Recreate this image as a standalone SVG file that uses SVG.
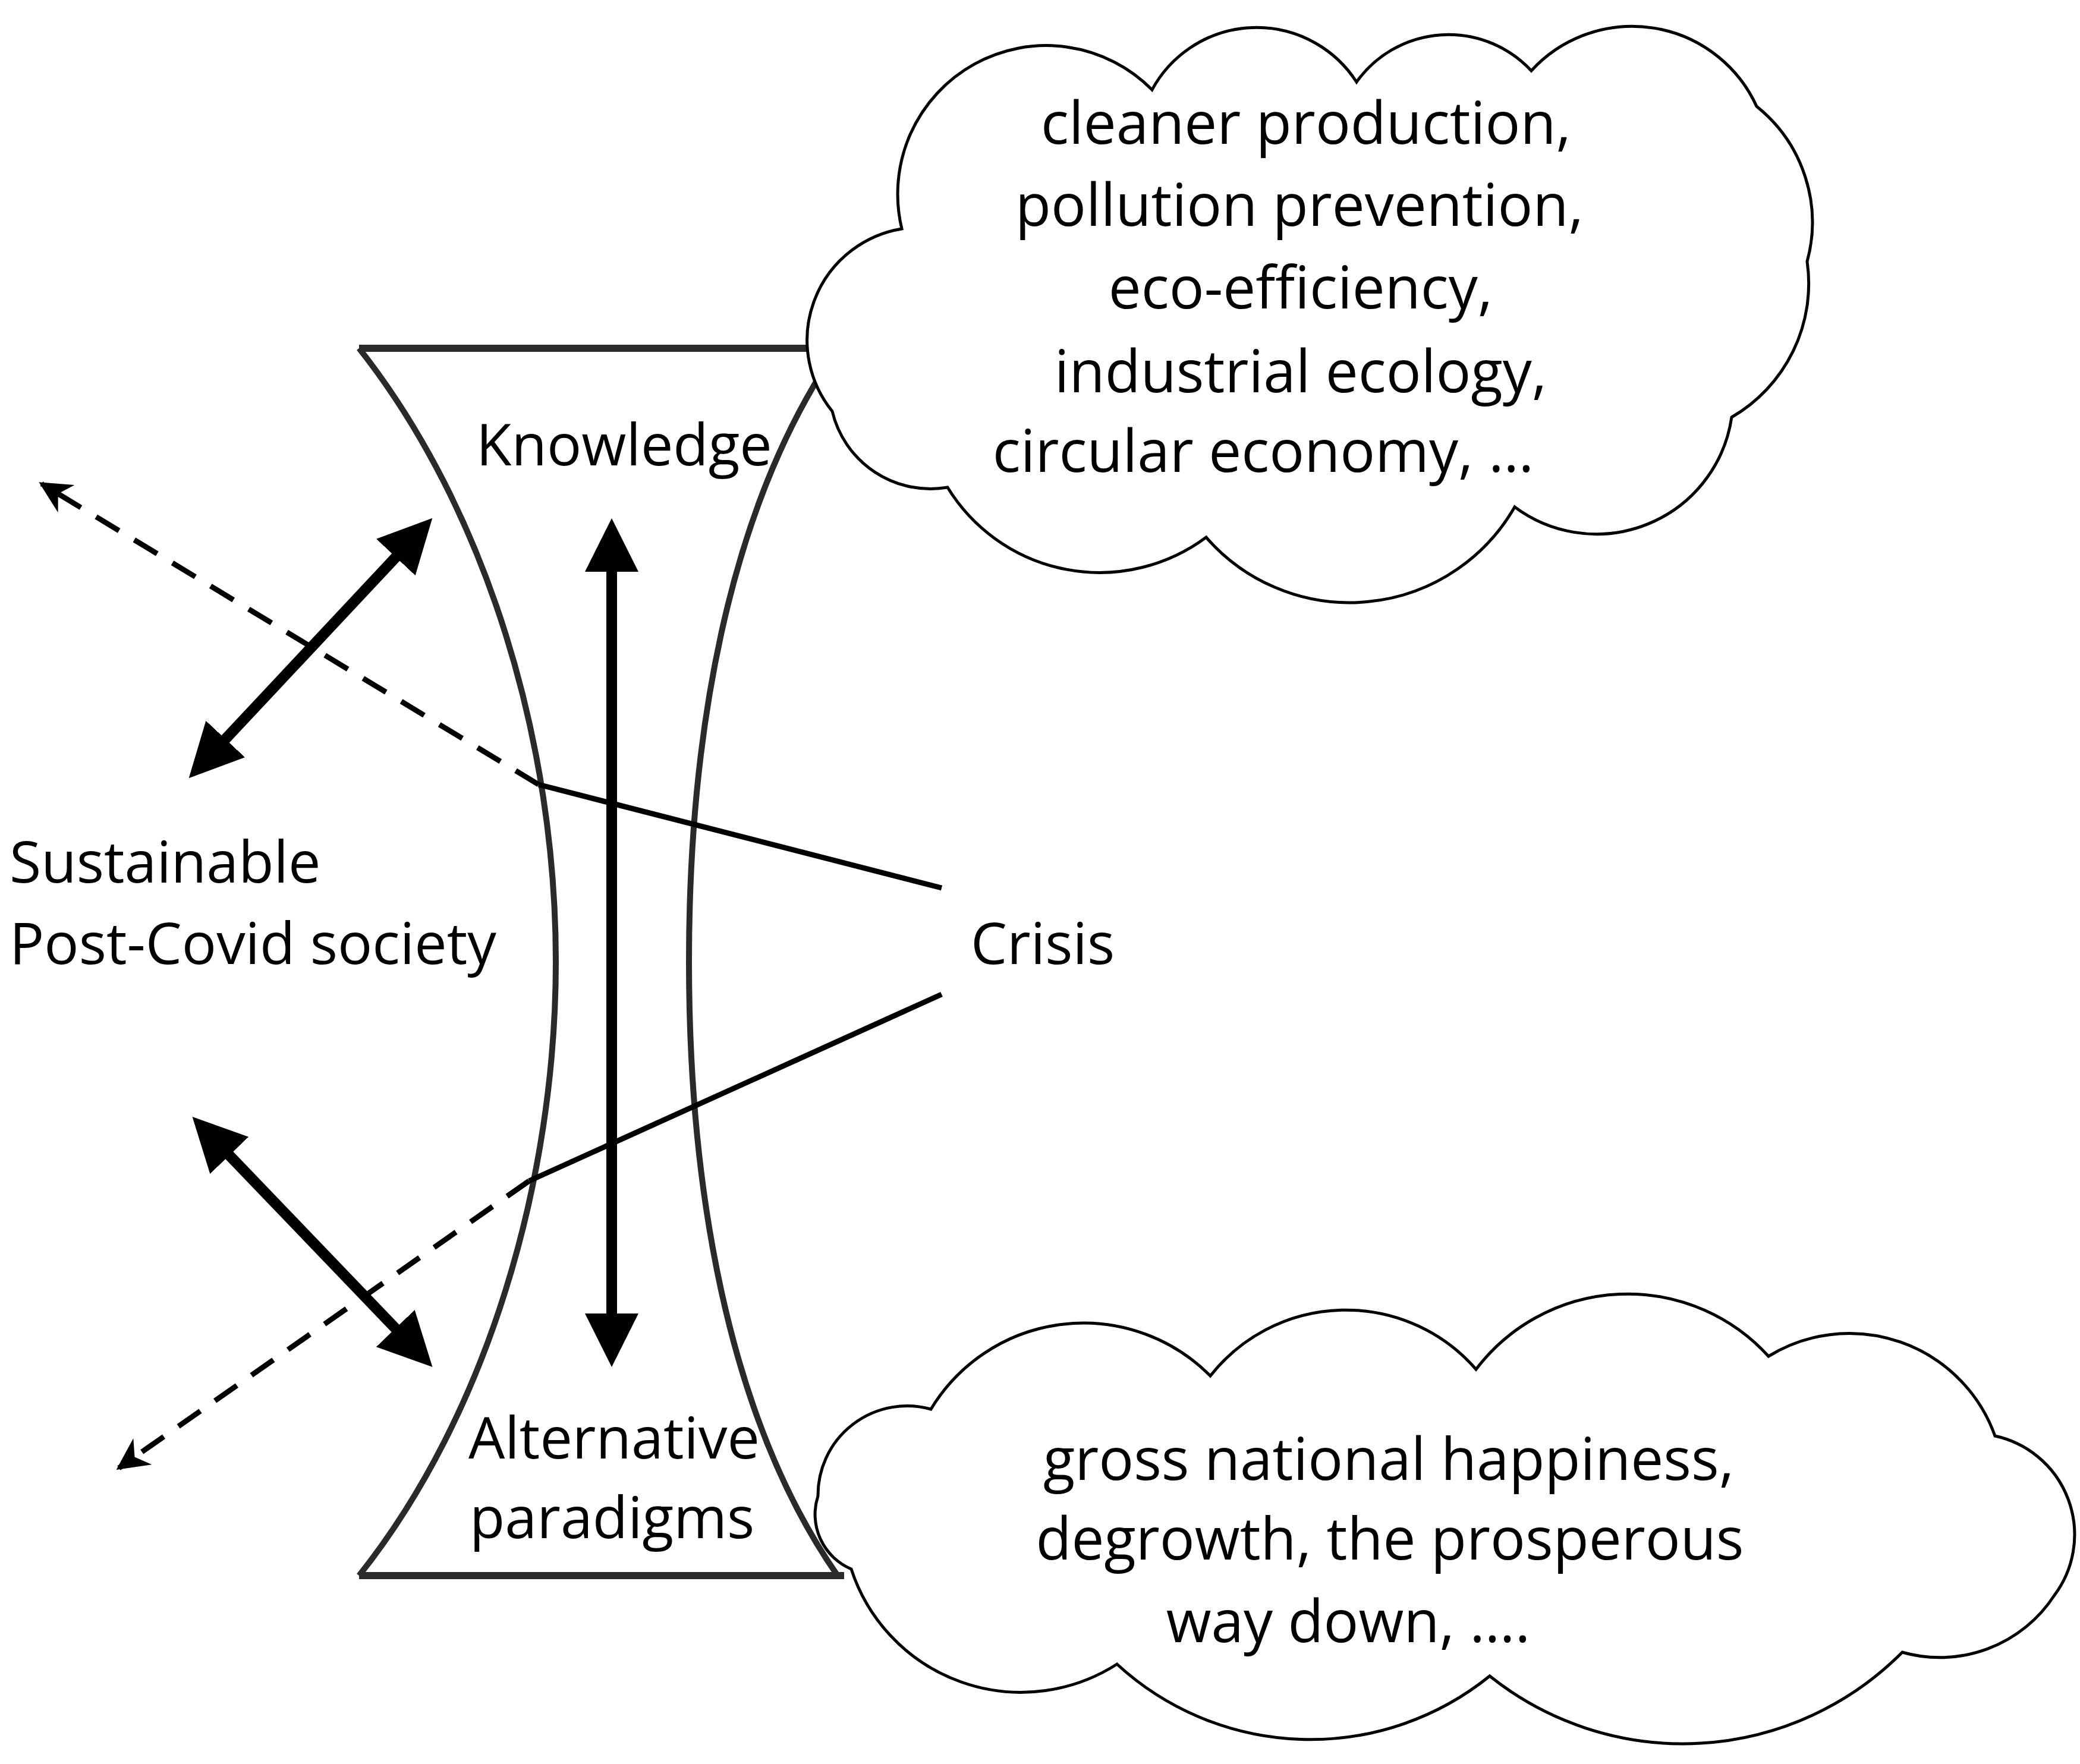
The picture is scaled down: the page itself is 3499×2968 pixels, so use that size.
<svg xmlns="http://www.w3.org/2000/svg" width="3499" height="2968" viewBox="0 0 3499 2968">
<style>
.lbl{font-family:"Open Sans","Liberation Sans",sans-serif;font-size:97px;fill:#000}
.ct{font-family:"Open Sans","Liberation Sans",sans-serif;font-size:98px;fill:#000;text-anchor:middle}
.hg{fill:none;stroke:#2a2a2a;stroke-width:10}
.cloud{fill:#fff;stroke:#000;stroke-width:5}
.thick{stroke:#000;stroke-width:18;fill:none}
.dash{stroke:#000;stroke-width:9;stroke-dasharray:45 30;fill:none}
.solid{stroke:#000;stroke-width:9;fill:none}
</style>
<defs>
<marker id="big" viewBox="0 0 10 10" refX="8" refY="5" markerWidth="5" markerHeight="5" markerUnits="strokeWidth" orient="auto-start-reverse"><path d="M0,0 L10,5 L0,10 z" fill="#000"/></marker>
<marker id="small" viewBox="0 0 10 10" refX="9" refY="5" markerWidth="6" markerHeight="6" markerUnits="strokeWidth" orient="auto"><path d="M0,0 L10,5 L0,10 L3,5 z" fill="#000"/></marker>
</defs>
<rect width="3499" height="2968" fill="#fff"/>
<g id="hourglass">
<line x1="604" y1="586" x2="1420" y2="586" stroke="#2a2a2a" stroke-width="12"/>
<line x1="604" y1="2651" x2="1420" y2="2651" stroke="#2a2a2a" stroke-width="12"/>
<path class="hg" d="M604 586 C820 860 935 1250 935 1618 S820 2380 604 2651"/>
<path class="hg" d="M1409 586 C1220 860 1159 1250 1159 1618 S1220 2380 1409 2651"/>
</g>
<g id="connectors">
<line class="thick" x1="1029" y1="890" x2="1029" y2="2282" marker-start="url(#big)" marker-end="url(#big)"/>
<line class="thick" x1="330" y1="1296" x2="715" y2="885" marker-start="url(#big)" marker-end="url(#big)"/>
<line class="thick" x1="336" y1="1892" x2="715" y2="2287" marker-start="url(#big)" marker-end="url(#big)"/>
<path class="dash" d="M906 1320 L70 814" marker-end="url(#small)"/>
<path class="solid" d="M906 1320 L1584 1494"/>
<path class="dash" d="M890 1987 L200 2470" marker-end="url(#small)"/>
<path class="solid" d="M890 1987 L1584 1673"/>
</g>
<g id="cloud1">
<path class="cloud" d="M1517 385 A250 250 0 0 1 1938 151 A200 200 0 0 1 2282 138 A190 190 0 0 1 2576 119 A230 230 0 0 1 2955 179 A250 250 0 0 1 3040 440 A260 260 0 0 1 2913 702 A230 230 0 0 1 2548 853 A320 320 0 0 1 2029 904 A300 300 0 0 1 1594 820 A170 170 0 0 1 1400 692 A190 190 0 0 1 1517 385 Z"/>
<text class="ct" x="2197" y="242">cleaner production,</text>
<text class="ct" x="2186" y="380">pollution prevention,</text>
<text class="ct" x="2188" y="519">eco-efficiency,</text>
<text class="ct" x="2188" y="660">industrial ecology,</text>
<text class="ct" x="2125" y="794">circular economy, …</text>
</g>
<g id="cloud2">
<path class="cloud" d="M1376 2517 A150 150 0 0 1 1566 2371 A300 300 0 0 1 2036 2315 A290 290 0 0 1 2483 2304 A320 320 0 0 1 2975 2282 A260 260 0 0 1 3356 2416 A170 170 0 0 1 3456 2684 A230 230 0 0 1 3200 2780 A520 520 0 0 1 2506 2820 A480 480 0 0 1 1879 2800 A300 300 0 0 1 1432 2640 A100 100 0 0 1 1376 2517 Z"/>
<text class="ct" x="2336" y="2490">gross national happiness,</text>
<text class="ct" x="2338" y="2624">degrowth, the prosperous</text>
<text class="ct" x="2268" y="2763">way down, ….</text>
</g>
<g id="labels">
<text class="lbl" x="801" y="783">Knowledge</text>
<text class="lbl" x="16" y="1485">Sustainable</text>
<text class="lbl" x="16" y="1622">Post-Covid society</text>
<text class="lbl" x="1633" y="1622">Crisis</text>
<text class="lbl" x="788" y="2454">Alternative</text>
<text class="lbl" x="790" y="2588">paradigms</text>
</g>
</svg>
